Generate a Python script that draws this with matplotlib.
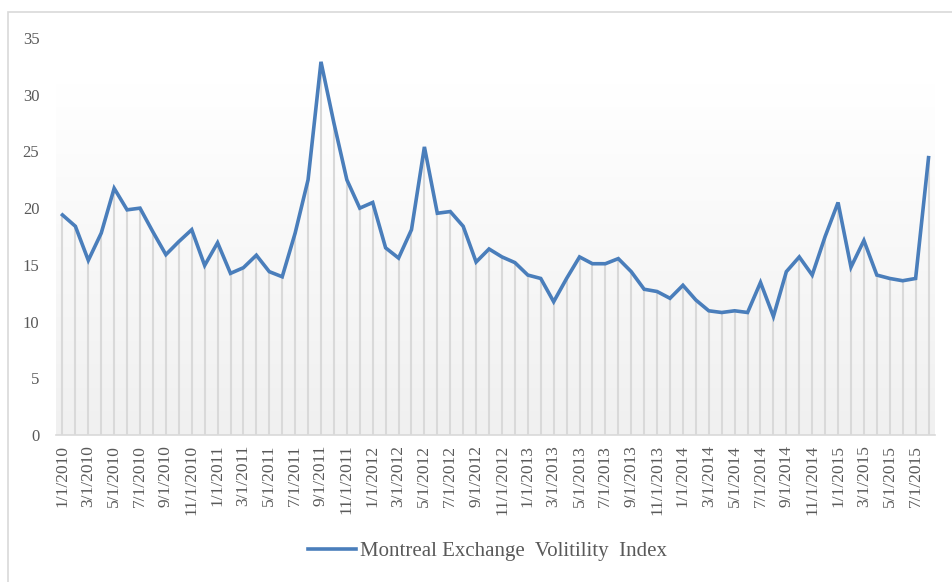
import numpy as np
import pandas as pd
from matplotlib import pyplot as plt
from matplotlib.patches import Rectangle
from matplotlib.colors import LinearSegmentedColormap

# monthly index values, Jan 2010 .. Aug 2015
vix = [19.4, 18.4, 15.4, 17.8, 21.75, 19.85, 20.0, 17.9, 15.9, 17.05,
       18.1, 14.95, 16.95, 14.25, 14.75, 15.85, 14.4, 13.95, 17.8, 22.5,
       32.9, 27.5, 22.5, 20.0, 20.5, 16.5, 15.6, 18.1, 25.4, 19.55,
       19.7, 18.4, 15.25, 16.4, 15.7, 15.2, 14.1, 13.8, 11.75, 13.8,
       15.7, 15.1, 15.1, 15.55, 14.4, 12.85, 12.65, 12.05, 13.2, 11.9,
       10.95, 10.8, 10.95, 10.8, 13.45, 10.45, 14.4, 15.7, 14.1, 17.5,
       20.5, 14.8, 17.15, 14.1, 13.8, 13.6, 13.8, 24.45]
months = pd.date_range("2010-01-01", periods=len(vix), freq="MS")
labels = [f"{d.month}/1/{d.year}" for d in months]
series_name = "Montreal Exchange  Volitility  Index"

grey = "#595959"
blue = "#4a7ebb"

plt.rcParams['font.family'] = ['Liberation Serif', 'DejaVu Serif']

fig = plt.figure(figsize=(9.53, 5.82), dpi=100)
# chart frame (runs off the right and bottom edges)
fig.patches.append(Rectangle((8 / 953, -0.1), 1.2, 1.1 - 12 / 582,
                             transform=fig.transFigure, fill=False,
                             edgecolor="#d9d9d9", lw=1.2))

ax = fig.add_axes([56 / 953, 147 / 582, 879 / 953, 397 / 582])
x = np.arange(len(vix))

# gradient backdrop
grad = np.linspace(0, 1, 256).reshape(-1, 1)
cmap = LinearSegmentedColormap.from_list("g", ["#f0f0f0", "#ffffff"])
ax.imshow(grad, extent=[-0.5, len(vix) - 0.5, 0, 31], aspect="auto",
          cmap=cmap, origin="lower", zorder=0)

ax.vlines(x, 0, vix, colors="#d9d9d9", lw=1.5, zorder=1)
ax.plot(x, vix, color=blue, lw=2.6, solid_joinstyle="miter", zorder=3,
        label=series_name)

ax.set_xlim(-0.5, len(vix) - 0.5)
ax.set_ylim(0, 35)
ax.set_yticks(range(0, 36, 5))
ax.set_xticks(x[::2])
ax.set_xticklabels(labels[::2], rotation=90, fontsize=12.5, color=grey)
ax.tick_params(axis="x", length=0, pad=7)
ax.tick_params(axis="y", length=0, pad=12, labelsize=12, labelcolor=grey)

for s in ["top", "right", "left"]:
    ax.spines[s].set_visible(False)
ax.spines["bottom"].set_color("#d9d9d9")
ax.spines["bottom"].set_linewidth(1.2)
ax.set_facecolor("none")

fig.legend(loc="center", bbox_to_anchor=(0.512, 0.053), frameon=False,
           fontsize=15, handlelength=2.3, handletextpad=0.2,
           labelcolor=grey)

fig.savefig("out.png", dpi=100)
